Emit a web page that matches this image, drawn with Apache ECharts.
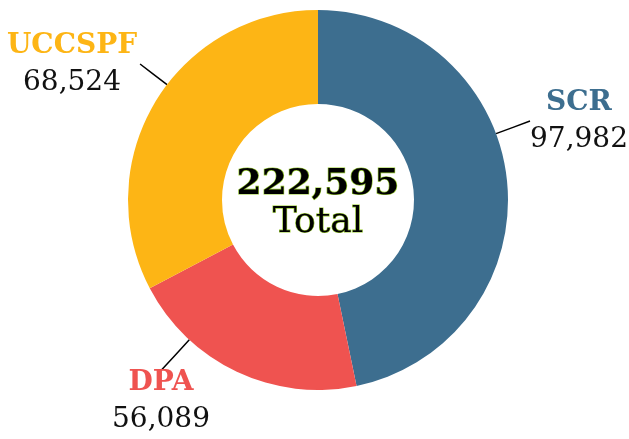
<!DOCTYPE html>
<html>
<head>
<meta charset="utf-8">
<script src="https://cdn.jsdelivr.net/npm/echarts@6/dist/echarts.min.js"></script>
<style>
html,body{margin:0;padding:0;background:#fff;}
#chart{width:629px;height:439px;}
</style>
</head>
<body>
<div id="chart"></div>
<script>
// Data (slice sizes as drawn in the reference; label texts as printed)
const categories = ['SCR', 'DPA', 'UCCSPF'];
const sliceValues = [97982, 43100, 68524];
const labelValues = ['97,982', '56,089', '68,524'];
const totalText = '222,595';
const totalLabel = 'Total';
const colors = ['#3d6e8f', '#ef5350', '#fdb515'];

// layout (not data)
const CX = 318, CY = 200, R_IN = 96, R_OUT = 190;
const labelPos = [[579, 121], [161, 401], [72, 64]];
const labelSide = ['left', 'top', 'right'];

const FONT = '"DejaVu Serif", Georgia, serif';

const chart = echarts.init(document.getElementById('chart'), null, {renderer: 'canvas'});

const data = categories.map((c, i) => ({
  name: c,
  value: sliceValues[i],
  itemStyle: {color: colors[i]},
  label: {
    formatter: '{n|' + c + '}\n{v|' + labelValues[i] + '}',
    rich: {
      n: {fontFamily: FONT, fontSize: 28, fontWeight: 'bold', color: colors[i], lineHeight: 37, align: 'center'},
      v: {fontFamily: FONT, fontSize: 28, color: '#111', lineHeight: 37, align: 'center'}
    }
  }
}));

chart.setOption({
  animation: false,
  backgroundColor: '#fff',
  series: [{
    type: 'pie',
    center: [CX, CY],
    radius: [R_IN, R_OUT],
    startAngle: 90,
    clockwise: true,
    avoidLabelOverlap: false,
    data: data,
    label: {show: true, position: 'outside', align: 'center'},
    labelLine: {show: true, length: 10, length2: 0, lineStyle: {color: '#000', width: 1.5}},
    labelLayout: function (params) {
      const i = params.dataIndex;
      const p = labelPos[i];
      const w = params.labelRect.width, h = params.labelRect.height;
      const side = labelSide[i];
      let a;
      if (side === 'left') a = [p[0] - w / 2, p[1]];
      else if (side === 'right') a = [p[0] + w / 2 + 3, p[1]];
      else if (side === 'top') a = [p[0], p[1] - h / 2 + 2];
      else a = [p[0], p[1] + h / 2];
      const L = Math.hypot(a[0] - CX, a[1] - CY);
      const s = [CX + (a[0] - CX) * R_OUT / L, CY + (a[1] - CY) * R_OUT / L];
      return {
        x: p[0], y: p[1], align: 'center', verticalAlign: 'middle',
        labelLinePoints: [s, [(s[0] + a[0]) / 2, (s[1] + a[1]) / 2], a]
      };
    },
    emphasis: {disabled: true}
  }],
  graphic: [{
    type: 'text',
    x: CX,
    y: 204,
    style: {
      text: '{a|' + totalText + '}\n{b|' + totalLabel + '}',
      align: 'center',
      verticalAlign: 'middle',
      rich: {
        a: {fontFamily: FONT, fontSize: 36, fontWeight: 'bold', fill: '#000', stroke: '#9acd32', lineWidth: 1.2, lineHeight: 38, align: 'center'},
        b: {fontFamily: FONT, fontSize: 36, fill: '#000', stroke: '#9acd32', lineWidth: 1.2, lineHeight: 38, align: 'center'}
      }
    }
  }]
});
</script>
</body>
</html>
